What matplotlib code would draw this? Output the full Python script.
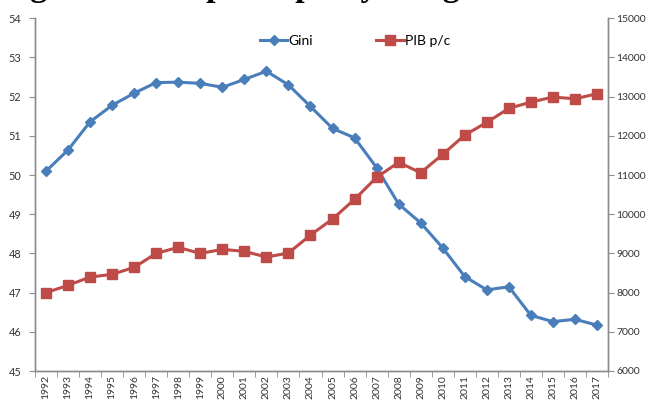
import matplotlib
matplotlib.use("Agg")
import matplotlib.pyplot as plt
from matplotlib.ticker import FixedLocator, NullFormatter

years = [str(y) for y in range(1992, 2018)]
gini = [50.10, 50.64, 51.36, 51.78, 52.09, 52.36, 52.37, 52.34, 52.24, 52.44,
        52.65, 52.30, 51.75, 51.19, 50.95, 50.19, 49.26, 48.78, 48.14, 47.41,
        47.07, 47.15, 46.42, 46.26, 46.32, 46.17]
pib = [8000, 8186, 8398, 8467, 8645, 9002, 9155, 9000, 9104, 9053,
       8908, 9010, 9469, 9878, 10380, 10941, 11324, 11059, 11528, 12020,
       12344, 12701, 12862, 12990, 12946, 13074]
left_ticks = list(range(45, 55))
right_ticks = list(range(6000, 15001, 1000))
title = "Figura 1. PIB per cápita y desigualdad"

blue = "#4A7EBB"
red = "#BE4B48"
axis_col = "#8C8C8C"
txt_col = "#333333"

plt.rcParams['font.family'] = ['Lato', 'DejaVu Sans']

fig = plt.figure(figsize=(6.46, 4.01), dpi=100)
ax = fig.add_axes([35/646, 1-371/401, (608-35)/646, (371-18.3)/401])
ax2 = ax.twinx()

x = list(range(len(years)))
ax.plot(x, gini, color=blue, lw=2.2, marker='D', ms=5.5, mec=blue, mfc=blue, label='Gini')
ax2.plot(x, pib, color=red, lw=2.2, marker='s', ms=7, mec=red, mfc=red, label='PIB p/c')

ax.set_xlim(-0.5, len(years) - 0.5)
ax.set_ylim(45, 54)
ax2.set_ylim(6000, 15000)
ax.set_yticks(left_ticks)
ax2.set_yticks(right_ticks)
ax.set_xticks(x)
ax.set_xticklabels(years, rotation=90)
ax.xaxis.set_minor_locator(FixedLocator([i - 0.5 for i in range(len(years) + 1)]))
ax.xaxis.set_minor_formatter(NullFormatter())

for a in (ax, ax2):
    a.spines['top'].set_visible(False)
    for s in ('left', 'right', 'bottom'):
        a.spines[s].set_color(axis_col)
        a.spines[s].set_linewidth(1.0)
ax.tick_params(axis='x', which='major', length=0, labelsize=7.5, colors=txt_col, pad=3)
ax.tick_params(axis='x', which='minor', length=4, color=axis_col, direction='out')
ax.tick_params(axis='y', length=4, color=axis_col, labelsize=7.8, labelcolor=txt_col, direction='out', pad=6)
ax2.tick_params(axis='y', length=4, color=axis_col, labelsize=7.5, labelcolor=txt_col, direction='out', pad=2)

h1, l1 = ax.get_legend_handles_labels()
h2, l2 = ax2.get_legend_handles_labels()
fig.legend(h1 + h2, l1 + l2, loc='center', bbox_to_anchor=(355/646, 1-41/401),
           ncol=2, frameon=False, fontsize=10, columnspacing=4.5,
           handlelength=2.0, handletextpad=0.1, labelcolor='black')

fig.text(0.0, 1 - 3/401, title, fontsize=24.5, fontweight='bold',
         family='Liberation Serif', va='bottom', ha='left', color='black')

fig.savefig("out.png", dpi=100)
